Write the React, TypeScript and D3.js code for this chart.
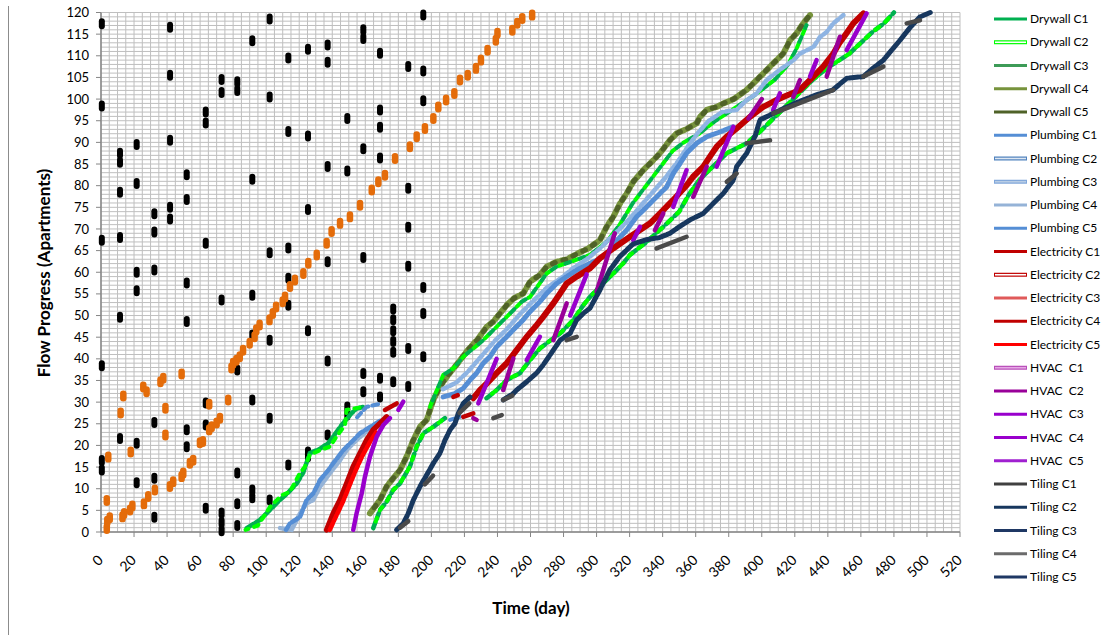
import React from 'react';
import * as d3 from 'd3';

type Pt = [number, number];

// axis ticks
const xTicks = d3.range(0, 521, 20);
const yTicks = d3.range(0, 121, 5);

// black markers [day, apartments]
const blackPoints: Pt[] = [
	[0.5, 117.4], [0.5, 98.4], [0.5, 67.4], [0.5, 38.4], [0.5, 16.5], [0.5, 14.3],
	[11.5, 87.5], [11.5, 85.4], [11.5, 78.5], [11.5, 68], [11.5, 49.6], [11.5, 21.6],
	[21.6, 89.5], [21.6, 80.5], [21.6, 60], [21.6, 55.7], [21.6, 20.5], [21.6, 11.4],
	[32.3, 73.5], [32.3, 69.3], [32.3, 60.5], [32.3, 25.3], [32.3, 12.4], [32.3, 3.4],
	[41.8, 116.6], [41.8, 105.5], [41.8, 90.5], [41.8, 75], [41.8, 72.3],
	[51.9, 82.5], [51.9, 76.8], [51.9, 57.5], [51.9, 48.6], [51.9, 23.6], [51.9, 19.7],
	[63.4, 97], [63.4, 94.5], [63.4, 66.7], [63.4, 29.8], [63.4, 24.7], [63.4, 5.5],
	[73, 104.5], [73, 101.5], [73, 53.6], [73, 4.4], [73, 2.2], [73, 0.3],
	[82.5, 104], [82.5, 102], [82.5, 37.4], [82.5, 13.6], [82.5, 6.5], [82.5, 1.5],
	[91.6, 113.5], [91.6, 81.5], [91.6, 54.7], [91.6, 45.5], [91.6, 30.5], [91.6, 9.7], [91.6, 7.9],
	[102.1, 118.5], [102.1, 100.5], [102.1, 64.5], [102.1, 44.3], [102.1, 26.3], [102.1, 7.4],
	[113.4, 109.5], [113.4, 92.5], [113.4, 65.6], [113.4, 58.6], [113.4, 52.4], [113.4, 15.5],
	[125.3, 111.5], [125.3, 91.5], [125.3, 74.5], [125.3, 46.5], [125.3, 18.5], [125.3, 17.4],
	[137.2, 112.5], [137.2, 108.5], [137.2, 84.4], [137.2, 62.4], [137.2, 39.5], [137.2, 22.4],
	[149.1, 95.5], [149.1, 83.4], [149.1, 28.9], [149.1, 27],
	[158.8, 116], [158.8, 114], [158.8, 88.5], [158.8, 63.4], [158.8, 36.6], [158.8, 32.4],
	[168.9, 110.6], [168.9, 97.5], [168.9, 93.5], [168.9, 86.4], [168.9, 35.5], [168.9, 31.2],
	[176.9, 51.5], [176.9, 49], [176.9, 46.5], [176.9, 44], [176.9, 41.5], [176.9, 34.7],
	[186, 107.5], [186, 79.4], [186, 70.4], [186, 61.4], [186, 42.4], [186, 33.6],
	[195.1, 119.4], [195.1, 106.5], [195.1, 99.6], [195.1, 56.5], [195.1, 50.5], [195.1, 40.5],
];

// orange markers [day, apartments]
const orangePoints: Pt[] = [
	[3.5, 0.8], [3.8, 2.5], [5.3, 3.3], [3.5, 7.3], [4.4, 17.3],
	[11.9, 27.5], [13.5, 31.4], [13, 3.5], [14, 4.3], [18, 18.5], [17.6, 5.1], [19, 6],
	[26, 6.5], [25.6, 33.5], [27.6, 32.4], [28.6, 8.2], [32.6, 9.7], [36, 34.7], [37.7, 35.5],
	[39, 28.6], [39, 22.4], [41.7, 10.5], [43.7, 11.6], [48.8, 36.5], [48.8, 12.8], [49.8, 13.6],
	[53.8, 15.9], [55.8, 16.6], [59.9, 20.6], [61.7, 20.9], [65.5, 23.6], [67, 24.3], [65.5, 29.5],
	[70, 25.2], [72, 26.3], [77, 30.5], [79, 37.9], [80, 39], [82, 39.7], [84, 40.5], [86, 42],
	[90, 43.6], [93, 45.1], [94, 46.7], [96, 47.8], [102, 49], [104, 50.5], [106, 52], [110, 53.2],
	[111.4, 54.3], [114.4, 56.7], [117.4, 58.2], [122.5, 59.7], [125.5, 62.1], [130.6, 64],
	[136.6, 66.7], [139.6, 69.4], [144.7, 71.3], [150.7, 72.8], [156.8, 75.5], [163.9, 79],
	[167.9, 80.9], [171.9, 82.4], [178, 86.3], [187, 89], [191.1, 91.3], [196.1, 93.2],
	[201.2, 95.5], [204.2, 98.2], [208.9, 99.8], [213.9, 101.3], [217.3, 104.4], [222, 105.5],
	[227, 107.1], [230, 109], [234, 111.3], [239, 113.6], [240, 115.2], [249, 115.9],
	[252, 117.5], [255, 118.6], [261, 119.4],
];

// Drywall
const drywallFirstA: Pt[] = [[88.2, 0.9], [96.2, 2.8], [102.3, 5.1], [108.3, 7.4], [113.3, 9.1], [118.4, 11.2], [122.4, 13.7], [126.4, 18.2], [132.5, 19.2], [137.5, 20.5], [140.5, 22], [145.6, 24.7], [151.6, 27.4], [154.7, 28.5], [158.8, 28.9]];
const drywallFirstB: Pt[] = [[87.5, 0.5], [95, 1.5], [102.3, 5.8], [109.4, 8.5], [114.4, 9.3], [120.4, 13.6], [123.4, 15.1], [126.4, 17.8], [132.5, 18.9], [138.5, 19.7], [142.5, 22], [147.7, 24.7], [148.7, 28.2], [158.8, 28.9]];
const drywallSecondGreen: Pt[] = [[164.8, 0.9], [168.9, 5.1], [172.9, 7], [176.9, 9.7], [181, 11.2], [187, 15.1], [191.1, 19.7], [195.1, 22.8], [201.2, 24.3], [208.2, 26.3]];
const drywallOlive: Pt[] = [[162.8, 4.3], [168.9, 7.4], [172.9, 10.5], [176, 12], [181, 14.3], [185, 17.4], [189, 21.2], [193.1, 24.3], [197.2, 25.9], [201.2, 30.5], [205.2, 33.6], [210.2, 36.3], [216, 39], [222, 42], [228, 44.5], [233.5, 47.4], [237.5, 48.6], [241.5, 50.5], [245.6, 52.4], [250, 54], [255.6, 55.1], [259.7, 57.8], [265.7, 59.4], [269.8, 61.3], [275.8, 62.4], [282, 63], [288.9, 64.4], [295, 65.5], [302, 67.4], [306.1, 70.5], [310.1, 72.8], [314.2, 75.9], [318.2, 78.2], [322.2, 80.9], [328.3, 83.6], [334.4, 85.9], [338.4, 87.5], [344.4, 90.5], [348.5, 92.1], [354, 93], [360.6, 94.4], [362.6, 95.9], [366.7, 97.5], [372.7, 98.2], [376.7, 99], [383, 100], [390.8, 102.1], [394.8, 103.6], [400.9, 105.9], [405, 107.5], [409, 109], [413, 110.5], [417.1, 113.6], [421.1, 115.2], [425.1, 117.5], [429.2, 119.4]];
const drywallGreenUpper: Pt[] = [[199.2, 28.9], [207.2, 36.3], [213.3, 37.8], [219.3, 40.5], [225.4, 42.4], [231.4, 44.3], [234.5, 45.5], [245.6, 49.7], [254.7, 53.2], [259.7, 54.3], [269.8, 59.7], [275.8, 61.3], [285, 62.5], [296, 64], [306, 67], [314, 71], [322, 76], [330, 80], [338, 84], [346, 88], [352, 89.8], [362, 92], [372, 95], [384, 98], [396, 101], [408, 104.5], [416, 108], [421.1, 111.7], [427.1, 117.1]];
const drywallGreenLower: Pt[] = [[233.4, 30.9], [239.5, 32.8], [245.6, 35.1], [253.6, 36.7], [259.7, 39.7], [265.7, 42.4], [269.8, 43.6], [278, 45.9], [286, 49], [292, 52.4], [296, 54.3], [302, 56.7], [310.1, 59.7], [316.2, 62.1], [320.2, 64], [330.3, 67], [340.4, 70.5], [350, 74], [356, 78], [362.6, 81.5], [370.7, 84.5], [378.8, 87.5], [390.9, 89.8], [399, 92.5], [407, 95.5], [415, 98.5], [423, 101.5], [431, 104.5], [439, 107], [447, 109], [453, 110.5], [460, 113], [467, 115.5], [474, 117.5], [480, 120]];

// Plumbing
const plumbingFirstA: Pt[] = [[112, 0.5], [114.4, 2], [120.5, 3.5], [124.5, 7.4], [128.5, 8.9], [132.6, 12], [137.6, 14.3], [140.6, 15.9], [146.7, 18.9], [152.7, 21.2], [156.8, 22.8], [164.8, 24.7], [169.9, 25.9]];
const plumbingFirstB: Pt[] = [[108.4, 0.9], [115.4, 0.5], [120.5, 4.3], [124.5, 6.6], [128.5, 7.4], [132.6, 10.5], [138.6, 13.6], [144.7, 16.6], [148.7, 18.9], [154, 21], [160, 23], [166, 24.3]];
const plumbingFirstTop: Pt[] = [[155, 26.5], [160.8, 28.9], [169.9, 29.7]];
const plumbingSecond: Pt[] = [[207.2, 31.2], [214.3, 32], [219.3, 33.2], [223.4, 35.1], [227.4, 36.7], [231.4, 39], [235.5, 40.5], [239.5, 42.8], [245.6, 45.1], [249.6, 46.7], [255.6, 49], [259.7, 50.9], [265.7, 53.2], [269.8, 55.1], [275.8, 57.4], [281.9, 59], [288, 60.5], [294, 61.7], [300.1, 62.8], [306.1, 64], [310, 66.5], [318.2, 69.7], [324.2, 72.8], [330.3, 75.1], [336.3, 77.4], [342.4, 79.7], [346.4, 82.8], [350.5, 85.1], [354.5, 87.5], [360.6, 89.8], [366.7, 91.3], [374.7, 92.4], [382.8, 93.6]];
const plumbingLight: Pt[] = [[207, 33], [215, 34.5], [222, 37], [230, 40.5], [238, 44], [246, 47], [254, 50.5], [262, 53.5], [270, 56.5], [278, 58.5], [286, 61], [294, 63], [302, 65.5], [310, 68.5], [318, 71.5], [326, 75], [334, 78.5], [342, 82], [350, 86], [356, 89.5], [362, 92.5], [368, 95], [376, 97], [384.8, 97.5], [390, 99.5], [396.9, 101.3], [402.9, 104.4], [410, 106.5], [419.2, 109], [423.1, 110.5], [431.2, 112], [435.2, 114.3], [439.3, 115.5], [443.3, 117.5], [449.4, 119.4]];
const plumbingSmall: Pt[] = [[211.3, 25.9], [217.3, 26.6]];

// Electricity
const electricityFirstA: Pt[] = [[136.6, 0.5], [140.6, 4.3], [144.7, 7.4], [148.7, 11.2], [152.7, 15.1], [156.8, 18.2], [160.8, 21.2], [164.8, 23.6], [169.9, 25.5], [172.9, 26.6]];
const electricityFirstB: Pt[] = [[138.5, 0.5], [142.5, 3.8], [146.5, 7], [150.5, 10.8], [154.5, 14.5], [158.5, 17.8], [162.5, 20.6], [166.5, 23]];
const electricityFirstTop: Pt[] = [[171.9, 28.2], [179, 29.7]];
const electricitySecond: Pt[] = [[225.4, 30.9], [229.4, 32.8], [233.5, 34.3], [239.5, 36.7], [245.6, 39], [251.6, 42], [257.7, 45.1], [263.7, 47.8], [267.7, 49.7], [273.8, 52.8], [277.9, 55.1], [281.9, 57.4], [288, 59], [296, 60.9], [302, 63.2], [310.1, 65.5], [320.2, 68.2], [332.3, 71.3], [338.4, 73.6], [346.4, 76.7], [354.5, 80.1], [358.5, 82.1], [364.6, 84.4], [368.6, 86.7], [372.7, 89], [378.7, 91.3], [384.8, 93.2], [392.9, 95.9], [400.9, 98.2], [409, 99.8], [413, 100.5], [423.1, 102.1], [431.2, 105.2], [437.2, 107.5], [443.3, 110.5], [446.9, 112.9], [451.3, 115.2], [455.4, 117.5], [461.5, 119.8]];
const electricityPieces: Pt[][] = [[[213.3, 31.2], [216, 31.6]], [[219.3, 26.6], [225.4, 27.4]]];

// HVAC
const hvacFirst: Pt[] = [[152.7, 0.5], [154.7, 4.3], [157.8, 8.9], [159.8, 12.8], [162.8, 17.4], [166.9, 22], [170.9, 24.7], [174.9, 26.3]];
const hvacStrokes: Pt[][] = [
	[[180, 28.2], [183, 30.1]], [[225.4, 26.3], [227.4, 25.9]],
	[[228.4, 29.7], [239.5, 40]], [[243.5, 32.8], [249.6, 40.1]], [[257.7, 39.7], [265.7, 45.1]],
	[[273.8, 44.3], [281.9, 52.8]], [[284, 50], [294, 59.5]], [[300, 55.5], [311, 69]],
	[[322.2, 67.4], [326.3, 70.5]], [[335.3, 69.7], [340.4, 73.6]], [[346.4, 75.1], [354.5, 83.6]],
	[[358.5, 77.4], [366.7, 84.4]], [[372.7, 84.4], [382.8, 93.6]], [[392, 95.5], [400, 100]],
	[[406.9, 97.5], [411, 101.3]], [[419.1, 100.5], [423.1, 104.4]], [[429.2, 105.2], [433.2, 109]],
	[[439.3, 105.2], [447.3, 114.4]], [[451.4, 111.3], [463.5, 119.8]],
];

// Tiling
const tilingFirst: Pt[] = [[179, 0.5], [183, 2], [186, 4.3], [189.1, 7.4], [193.1, 10.5], [197.2, 13.2], [201.2, 15.9], [205.2, 18.2], [208.2, 21.2], [211.3, 23.6], [214.3, 25.1], [216.3, 27.4], [219.3, 29.7], [223.4, 31.2]];
const tilingSecond: Pt[] = [[243.5, 30.5], [249.6, 32], [251.6, 32.8], [257.7, 34.7], [263.7, 36.7], [267.7, 38.6], [273.8, 42], [277.9, 44.3], [284, 45.9], [288, 49], [292, 50.5], [296, 51.7], [302, 55.9], [308, 60.5], [314, 63.6], [322, 66.5], [330, 67.5], [338, 68], [344.4, 69], [350, 70.5], [356.6, 72.1], [364.6, 73.6], [372.7, 76.7], [376.7, 78.2], [382.8, 81.3], [384.8, 84.4], [390.9, 87.5], [396, 91.5], [398.9, 95.2], [407, 96.7], [420, 99], [433, 101], [443, 102.1], [451.4, 104.8], [461.5, 105.2], [467, 107], [473.6, 109], [478, 111], [483.7, 113.6], [489.7, 116.5], [495.8, 119], [502, 120]];
const tilingGrayPieces: Pt[][] = [
	[[181, 1], [186, 2.5]], [[196, 11], [201, 13]], [[217, 27.5], [223, 29.7]],
	[[237.5, 26.3], [242.6, 27]], [[243.5, 30.5], [249, 31.5]], [[281.9, 44.3], [288, 45.1]],
	[[336.3, 65.5], [354.5, 68.2]], [[378.8, 80.9], [384.8, 82.8]], [[390.9, 89.8], [405, 90.5]],
	[[407, 96.7], [443.3, 102.1]], [[461.5, 105.2], [473.6, 107.5]], [[487.7, 117.5], [495.8, 118.2]],
];

// legend
const legendLabels = [
	'Drywall C1', 'Drywall C2', 'Drywall C3', 'Drywall C4', 'Drywall C5',
	'Plumbing C1', 'Plumbing C2', 'Plumbing C3', 'Plumbing C4', 'Plumbing C5',
	'Electricity C1', 'Electricity C2', 'Electricity C3', 'Electricity C4', 'Electricity C5',
	'HVAC  C1', 'HVAC  C2', 'HVAC  C3', 'HVAC  C4', 'HVAC  C5',
	'Tiling C1', 'Tiling C2', 'Tiling C3', 'Tiling C4', 'Tiling C5',
];
const legendColors = [
	'#00B050', '#00FF00', '#3D9B57', '#77933C', '#4F6228',
	'#558ED5', '#4F81BD', '#7FA6DA', '#95B3D7', '#558ED5',
	'#C00000', '#C00000', '#E05A5A', '#C00000', '#FF0000',
	'#B84DB8', '#990099', '#9900CC', '#9900CC', '#A020D0',
	'#404040', '#17375E', '#1F3864', '#6B6B6B', '#1F3864',
];
const legendInner: Record<number, string> = { 1: '#ffffff', 6: '#DCE6F2', 7: '#B9CDE5', 11: '#ffffff', 15: '#E6A8E6' };

const FONT = 'Lato, "Open Sans", sans-serif';

export default function App() {
	const x = d3.scaleLinear().domain([0, 520]).range([101, 960]);
	const y = d3.scaleLinear().domain([0, 120]).range([532, 12.5]);
	const line = d3.line<Pt>().x((d) => x(d[0])).y((d) => y(d[1]));

	const strands: { pts: Pt[]; color: string; w: number; dash?: string; off?: number }[] = [
		{ pts: drywallOlive, color: '#77933C', w: 6, dash: '6 3' },
		{ pts: drywallOlive, color: '#4F6228', w: 5, dash: '3 8', off: 4 },
		{ pts: drywallFirstA, color: '#00B050', w: 4.5, dash: '8 3' },
		{ pts: drywallFirstB, color: '#00FF00', w: 4, dash: '5 6', off: 2 },
		{ pts: drywallSecondGreen, color: '#00B050', w: 4.5, dash: '6 4' },
		{ pts: drywallSecondGreen, color: '#00FF00', w: 4, dash: '4 8', off: 5 },
		{ pts: drywallGreenUpper, color: '#00FF00', w: 4, dash: '6 9' },
		{ pts: drywallGreenUpper, color: '#00B050', w: 4, dash: '5 10', off: 8 },
		{ pts: drywallGreenLower, color: '#00B050', w: 4.5, dash: '8 4' },
		{ pts: drywallGreenLower, color: '#00FF00', w: 4, dash: '5 8', off: 6 },
		{ pts: plumbingFirstB, color: '#95B3D7', w: 4.5, dash: '6 2' },
		{ pts: plumbingFirstA, color: '#558ED5', w: 4.5, dash: '7 3' },
		{ pts: plumbingFirstTop, color: '#558ED5', w: 4, dash: '6 4' },
		{ pts: plumbingSmall, color: '#558ED5', w: 4 },
		{ pts: plumbingLight, color: '#8EB4E3', w: 4.5, dash: '5 3' },
		{ pts: plumbingSecond, color: '#558ED5', w: 5, dash: '9 2' },
		{ pts: electricityFirstA, color: '#C00000', w: 5.5 },
		{ pts: electricityFirstB, color: '#FF0000', w: 4.5, dash: '7 2' },
		{ pts: electricityFirstTop, color: '#C00000', w: 4.5 },
		...electricityPieces.map((p) => ({ pts: p, color: '#C00000', w: 4.5 })),
		{ pts: electricitySecond, color: '#C00000', w: 6 },
		{ pts: hvacFirst, color: '#9900CC', w: 4.5 },
		...hvacStrokes.map((p, i) => ({ pts: p, color: i % 2 ? '#990099' : '#9900CC', w: 4.5 })),
		{ pts: tilingFirst, color: '#17375E', w: 5, dash: '8 2' },
		{ pts: tilingSecond, color: '#17375E', w: 5, dash: '9 2' },
		...tilingGrayPieces.map((p) => ({ pts: p, color: '#4A4A4A', w: 4.5 })),
	];

	return (
		<svg width={1109} height={635} style={{ position: 'absolute', left: 0, top: 0, background: '#fff' }} fontFamily={FONT}>
			<line x1={8.5} x2={8.5} y1={6} y2={635} stroke="#8c8c8c" />
			<g className="grid" stroke="#bfbfbf" strokeWidth={1}>
				{d3.range(0, 121, 1).map((v) => (
					<line key={'h' + v} x1={x(0)} x2={x(520)} y1={y(v)} y2={y(v)} />
				))}
				{d3.range(0, 521, 5).map((v) => (
					<line key={'v' + v} x1={x(v)} x2={x(v)} y1={y(0)} y2={y(120)} />
				))}
			</g>
			<g className="axes" stroke="#868686">
				<line x1={x(0)} x2={x(0)} y1={y(0)} y2={y(120)} strokeWidth={1.5} />
				<line x1={x(0)} x2={x(520)} y1={y(0)} y2={y(0)} strokeWidth={1.5} />
				{yTicks.map((t) => (
					<line key={t} x1={x(0) - 5} x2={x(0)} y1={y(t)} y2={y(t)} />
				))}
				{xTicks.map((t) => (
					<line key={t} x1={x(t)} x2={x(t)} y1={y(0)} y2={y(0) + 5} />
				))}
			</g>
			<g className="y-labels" fontSize={13} textAnchor="end" fill="#000">
				{yTicks.map((t) => (
					<text key={t} x={89} y={y(t)} dy="0.35em">
						{t}
					</text>
				))}
			</g>
			<g className="x-labels" fontSize={14} textAnchor="end" fill="#000">
				{xTicks.map((t) => (
					<text key={t} transform={`translate(${x(t) + 3},${561}) rotate(-45)`}>
						{t}
					</text>
				))}
			</g>
			<text transform="translate(50,273) rotate(-90)" textAnchor="middle" fontWeight="bold" fontSize={17}>
				Flow Progress (Apartments)
			</text>
			<text x={531} y={614} textAnchor="middle" fontWeight="bold" fontSize={17}>
				Time (day)
			</text>

			<g className="black">
				{blackPoints.map((d, i) => (
					<rect key={i} x={x(d[0]) - 3} y={y(d[1]) - 5.5} width={6} height={11} rx={3} fill="#000" />
				))}
			</g>
			<g className="orange">
				{orangePoints.map((d, i) => (
					<rect key={i} x={x(d[0]) - 3.25} y={y(d[1]) - 5.5} width={6.5} height={11} rx={3.2} fill="#E46C0A" />
				))}
			</g>
			<g className="series" fill="none" strokeLinecap="round">
				{strands.map((s, i) => (
					<path
						key={i}
						d={line(s.pts) || ''}
						stroke={s.color}
						strokeWidth={s.w}
						strokeDasharray={s.dash}
						strokeDashoffset={s.off}
					/>
				))}
			</g>

			<g className="legend" fontSize={12}>
				{legendLabels.map((name, i) => {
					const ly = 19 + i * 23.25;
					return (
						<g key={name}>
							<line x1={994} x2={1027} y1={ly} y2={ly} stroke={legendColors[i]} strokeWidth={legendInner[i] ? 4 : 3} />
							{legendInner[i] && <line x1={995} x2={1026} y1={ly} y2={ly} stroke={legendInner[i]} strokeWidth={1.6} />}
							<text x={1030} y={ly} dy="0.35em" style={{ whiteSpace: 'pre' }}>
								{name}
							</text>
						</g>
					);
				})}
			</g>
		</svg>
	);
}
